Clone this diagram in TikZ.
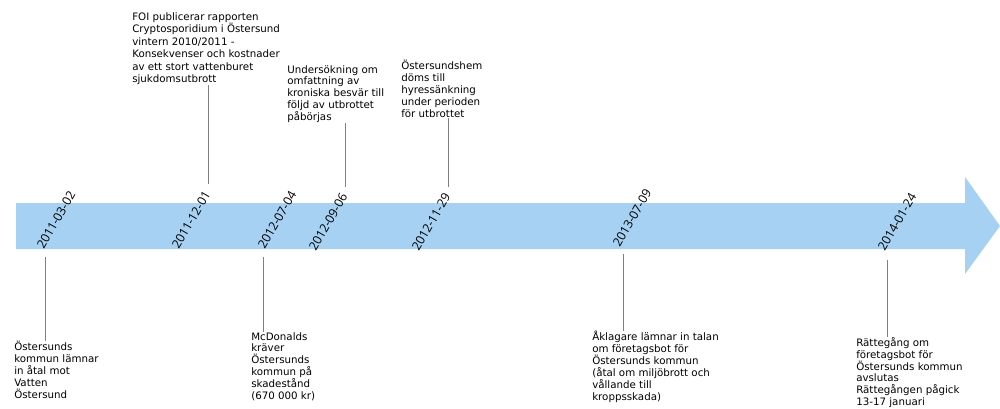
\documentclass[tikz,border=0pt]{standalone}
\usepackage{fontspec}
\setmainfont{DejaVu Sans}
\newfontfamily\datefont{Open Sans}
\usepackage{tikz}

\definecolor{timeblue}{HTML}{A6D1F3}
\definecolor{tickgray}{HTML}{808080}

\tikzset{
  event/.style={anchor=north west, inner sep=0pt, align=left,
    font=\fontsize{7.7}{8.9}\selectfont},
  datelbl/.style={rotate=60, inner sep=0pt, font=\datefont\fontsize{9.2}{10}\selectfont},
  tick/.style={draw=tickgray, line width=0.7pt}
}

\begin{document}
\begin{tikzpicture}[x=0.75pt, y=-0.75pt]
\useasboundingbox (0,0) rectangle (1000,408);

% Timeline arrow
\fill[timeblue] (16,203) -- (965,203) -- (965,177) -- (1000,226)
  -- (965,274) -- (965,249) -- (16,249) -- cycle;

% Dates
\node[datelbl] (d1) at (56,220) {2011-03-02};
\node[datelbl] (d2) at (191,220) {2011-12-01};
\node[datelbl] (d3) at (277,220) {2012-07-04};
\node[datelbl] (d4) at (328,222) {2012-09-06};
\node[datelbl] (d5) at (431,222) {2012-11-29};
\node[datelbl] (d6) at (632,218) {2013-07-09};
\node[datelbl] (d7) at (897,222) {2014-01-24};

% Events above
\node[event, font=\fontsize{7.7}{9.4}\selectfont] (e2) at (132,12) {FOI publicerar rapporten\\Cryptosporidium i Östersund\\vintern 2010/2011 -\\Konsekvenser och kostnader\\av ett stort vattenburet\\sjukdomsutbrott};
\node[event] (e4) at (287,65) {Undersökning om\\omfattning av\\kroniska besvär till\\följd av utbrottet\\påbörjas};
\node[event] (e5) at (401,60) {Östersundshem\\döms till\\hyressänkning\\under perioden\\för utbrottet};

% Events below
\node[event] (e1) at (14,341) {Östersunds\\kommun lämnar\\in åtal mot\\Vatten\\Östersund};
\node[event] (e3) at (251,332) {McDonalds\\kräver\\Östersunds\\kommun på\\skadestånd\\(670 000 kr)};
\node[event] (e6) at (592,331) {Åklagare lämnar in talan\\om företagsbot för\\Östersunds kommun\\(åtal om miljöbrott och\\vållande till\\kroppsskada)};
\node[event] (e7) at (856,337) {Rättegång om\\företagsbot för\\Östersunds kommun\\avslutas\\Rättegången pågick\\13-17 januari};

% Ticks
\coordinate (t1) at (45,257);
\coordinate (t2) at (208,184);
\coordinate (t3) at (263,257);
\coordinate (t4) at (345,187);
\coordinate (t5) at (448,187);
\coordinate (t6) at (623,254);
\coordinate (t7) at (887,260);
\draw[tick] (t1) -- (t1 |- e1.north);
\draw[tick] (t2) -- (t2 |- e2.south);
\draw[tick] (t3) -- (t3 |- e3.north);
\draw[tick] (t4) -- (t4 |- e4.south);
\draw[tick] (t5) -- (t5 |- e5.south);
\draw[tick] (t6) -- (t6 |- e6.north);
\draw[tick] (t7) -- (t7 |- e7.north);
\end{tikzpicture}
\end{document}
